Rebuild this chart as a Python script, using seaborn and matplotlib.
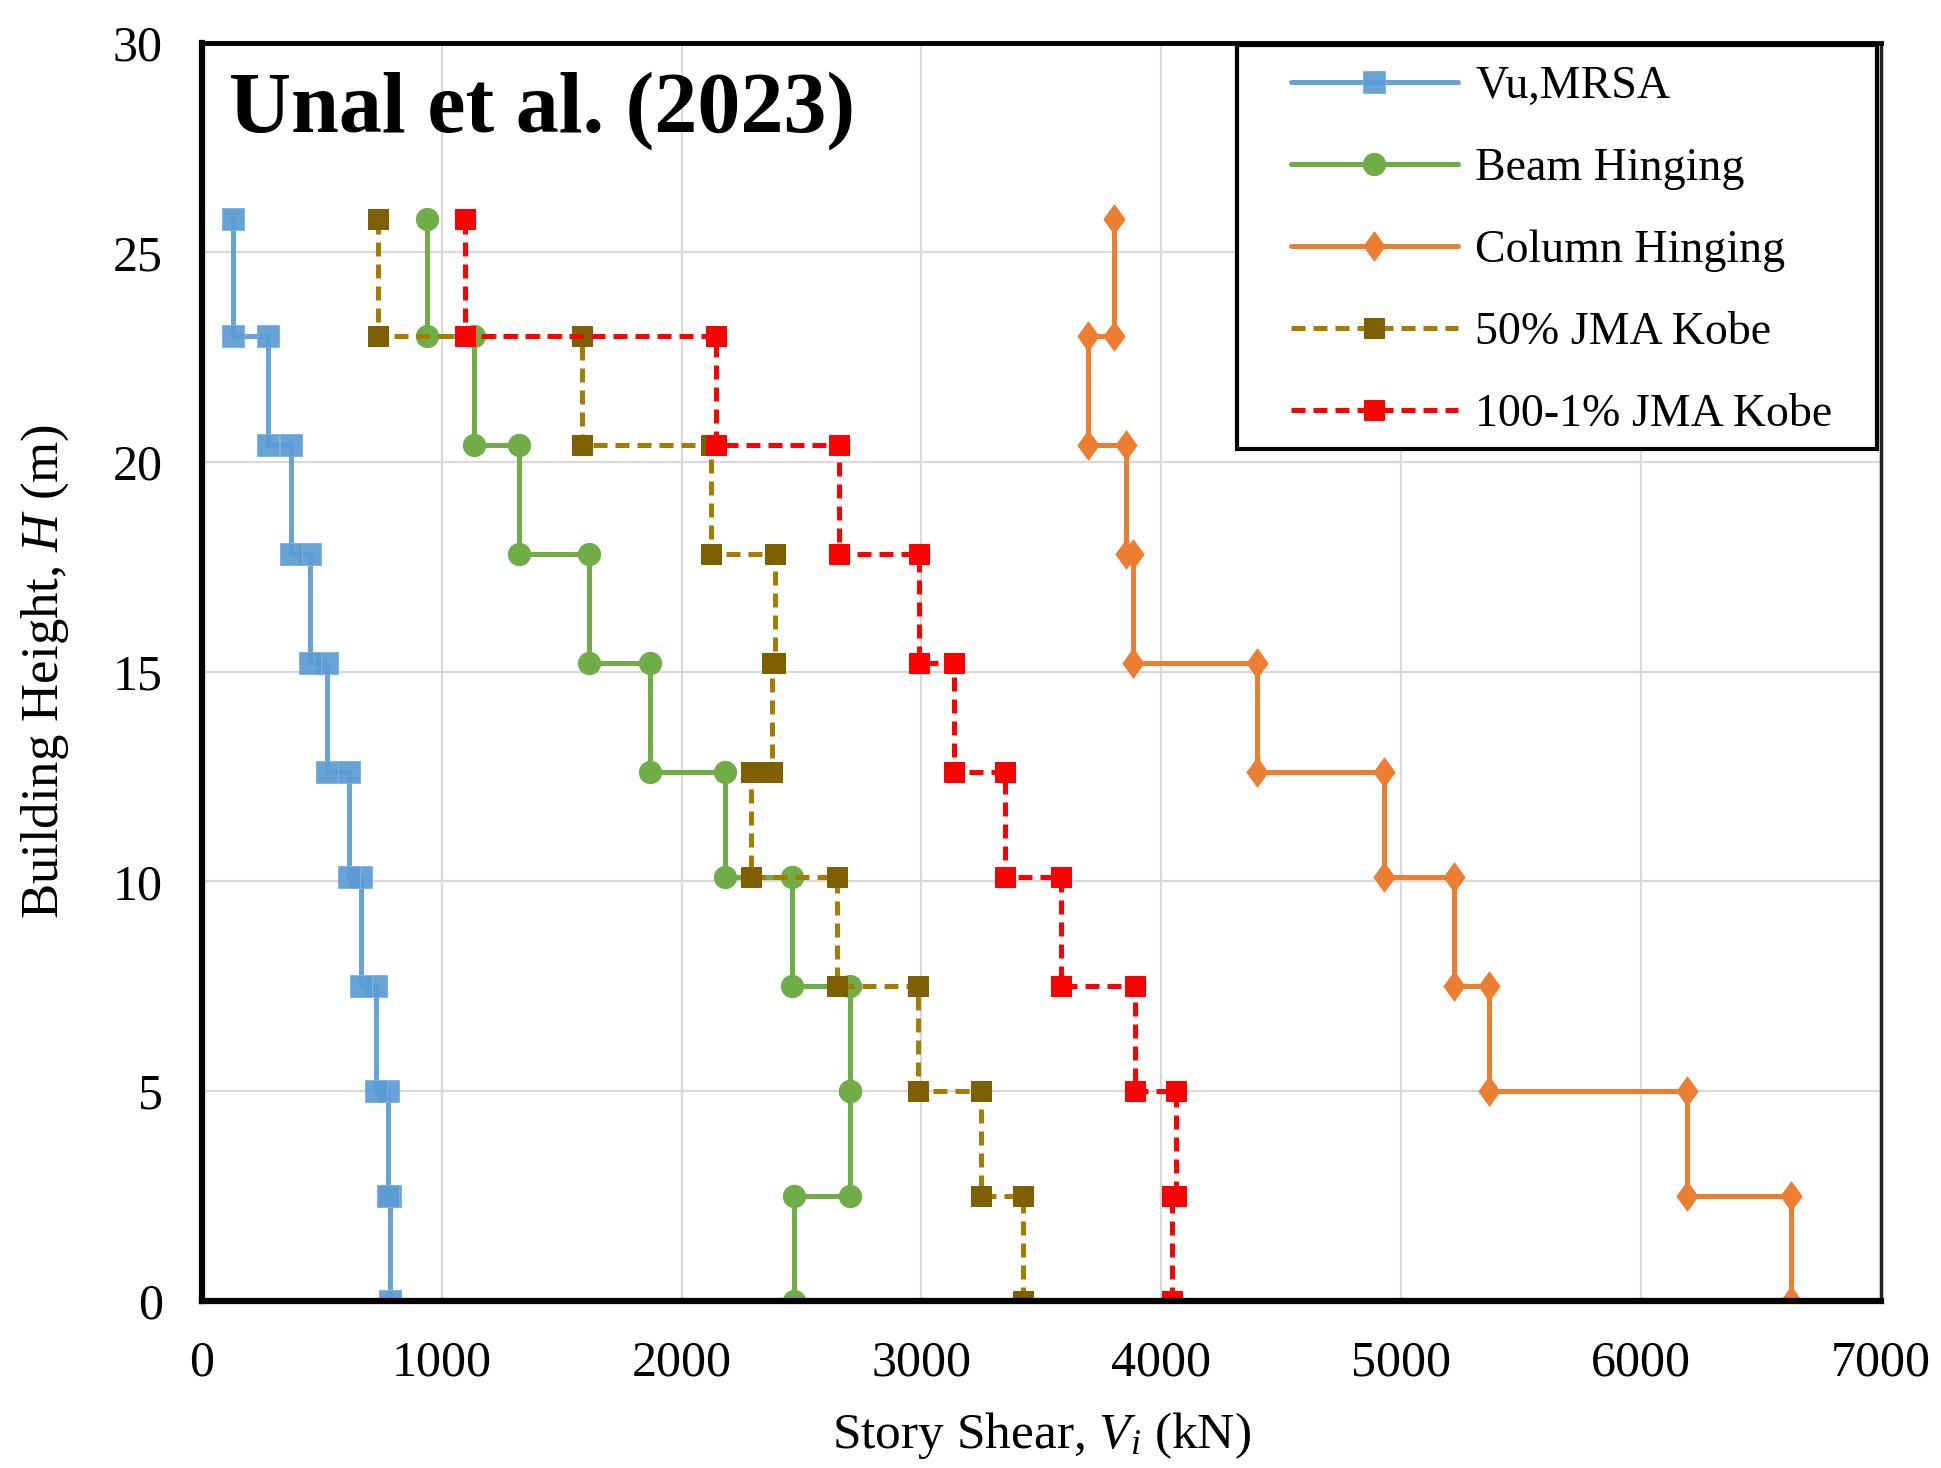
import numpy as np
import pandas as pd
import seaborn as sns
from matplotlib import pyplot as plt
from matplotlib.patches import Rectangle

# floor levels (m) and story shear per story, bottom story first (kN)
floor_heights = [0, 2.5, 5.0, 7.5, 10.1, 12.6, 15.2, 17.8, 20.4, 23.0, 25.8]
vu_mrsa = [785, 775, 725, 665, 612, 520, 452, 372, 274, 128]
beam_hinging = [2469, 2701, 2701, 2459, 2180, 1870, 1612, 1322, 1136, 940]
column_hinging = [6625, 6193, 5365, 5222, 4928, 4400, 3884, 3851, 3696, 3804]
jma_50 = [3425, 3249, 2986, 2650, 2288, 2375, 2390, 2123, 1586, 733]
jma_100_1 = [4045, 4060, 3889, 3580, 3347, 3135, 2991, 2655, 2144, 1095]

series_names = ["Vu,MRSA", "Beam Hinging", "Column Hinging", "50% JMA Kobe", "100-1% JMA Kobe"]
series_values = [vu_mrsa, beam_hinging, column_hinging, jma_50, jma_100_1]


def story_steps(shears):
    # each story holds a constant shear from its floor to its ceiling
    xs, ys = [], []
    for i, v in enumerate(shears):
        xs += [v, v]
        ys += [floor_heights[i], floor_heights[i + 1]]
    return xs, ys


rows = []
for name, vals in zip(series_names, series_values):
    xs, ys = story_steps(vals)
    for k, (x, y) in enumerate(zip(xs, ys)):
        rows.append({"series": name, "order": k, "shear": x, "height": y})
df = pd.DataFrame(rows)

sns.set_style("white")
plt.rcParams["font.family"] = ["Liberation Serif", "DejaVu Serif"]
plt.rcParams["mathtext.fontset"] = "custom"
plt.rcParams["mathtext.rm"] = "Liberation Serif"
plt.rcParams["mathtext.it"] = "Liberation Serif:italic"
for key in ["text.color", "axes.labelcolor", "xtick.color", "ytick.color"]:
    plt.rcParams[key] = "black"

# slightly tall diamond like the original
diamond = [(0, 1), (0.72, 0), (0, -1), (-0.72, 0), (0, 1)]

styles = {
    "Vu,MRSA": dict(color="#5B9BD5", marker="s", linestyle="-", markersize=16,
                    markerfacecolor="#5B9BD5", markeredgecolor="#7FB1E0", alpha=0.92),
    "Beam Hinging": dict(color="#70AD47", marker="o", linestyle="-", markersize=16,
                         markerfacecolor="#70AD47", markeredgecolor="#70AD47"),
    "Column Hinging": dict(color="#ED7D31", marker=diamond, linestyle="-", markersize=21,
                           markerfacecolor="#ED7D31", markeredgecolor="#ED7D31"),
    "50% JMA Kobe": dict(color="#A67C00", marker="s", linestyle=(0, (2.8, 1.6)), markersize=15,
                         markerfacecolor="#7F6000", markeredgecolor="#7F6000"),
    "100-1% JMA Kobe": dict(color="#FF0000", marker="s", linestyle=(0, (2.8, 1.6)), markersize=15,
                            markerfacecolor="#FF0000", markeredgecolor="#FF0000"),
}

fig, ax = plt.subplots(figsize=(19.41, 14.68), dpi=100)
fig.subplots_adjust(left=0.104, right=0.969, top=0.971, bottom=0.114)

for name in series_names:
    sub = df[df["series"] == name].sort_values("order")
    sns.lineplot(data=sub, x="shear", y="height", sort=False, estimator=None,
                 ax=ax, label=name, linewidth=3.6, **styles[name])

ax.set_xlim(0, 7000)
ax.set_ylim(0, 30)
ax.set_xticks(np.arange(0, 7001, 1000))
ax.set_yticks(np.arange(0, 31, 5))
ax.grid(True, color="#d9d9d9", linewidth=1.6)
ax.set_axisbelow(True)

ax.tick_params(axis="both", direction="out", length=9, width=2.5, labelsize=36)
ax.tick_params(axis="x", pad=19)
ax.tick_params(axis="y", pad=19)
for side in ["left", "bottom"]:
    ax.spines[side].set_linewidth(4.5)
    ax.spines[side].set_color("black")
ax.spines["top"].set_linewidth(3.5)
ax.spines["top"].set_color("black")
ax.spines["right"].set_linewidth(2.5)
ax.spines["right"].set_color("#222222")

ax.set_xlabel("Story Shear, $V_i$ (kN)", fontsize=37, labelpad=17)
ax.set_ylabel("Building Height, $H$ (m)", fontsize=38, labelpad=30)

ax.text(0.016, 0.977, "Unal et al. (2023)", transform=ax.transAxes,
        fontsize=62, fontweight="bold", va="top", ha="left")

# legend box drawn separately so the side padding matches the original
ax.add_patch(Rectangle((0.6168, 0.6768), 0.381, 0.3212, transform=ax.transAxes,
                       facecolor="white", edgecolor="black", linewidth=3,
                       zorder=4.5, clip_on=False))
leg = ax.legend(loc="upper left", bbox_to_anchor=(0.6485, 0.9818), fontsize=33,
                handlelength=3.65, handletextpad=0.38, labelspacing=0.86,
                borderpad=0.0, borderaxespad=0.0, frameon=False)
leg.set_zorder(5)

fig.savefig("out.png", dpi=100)
